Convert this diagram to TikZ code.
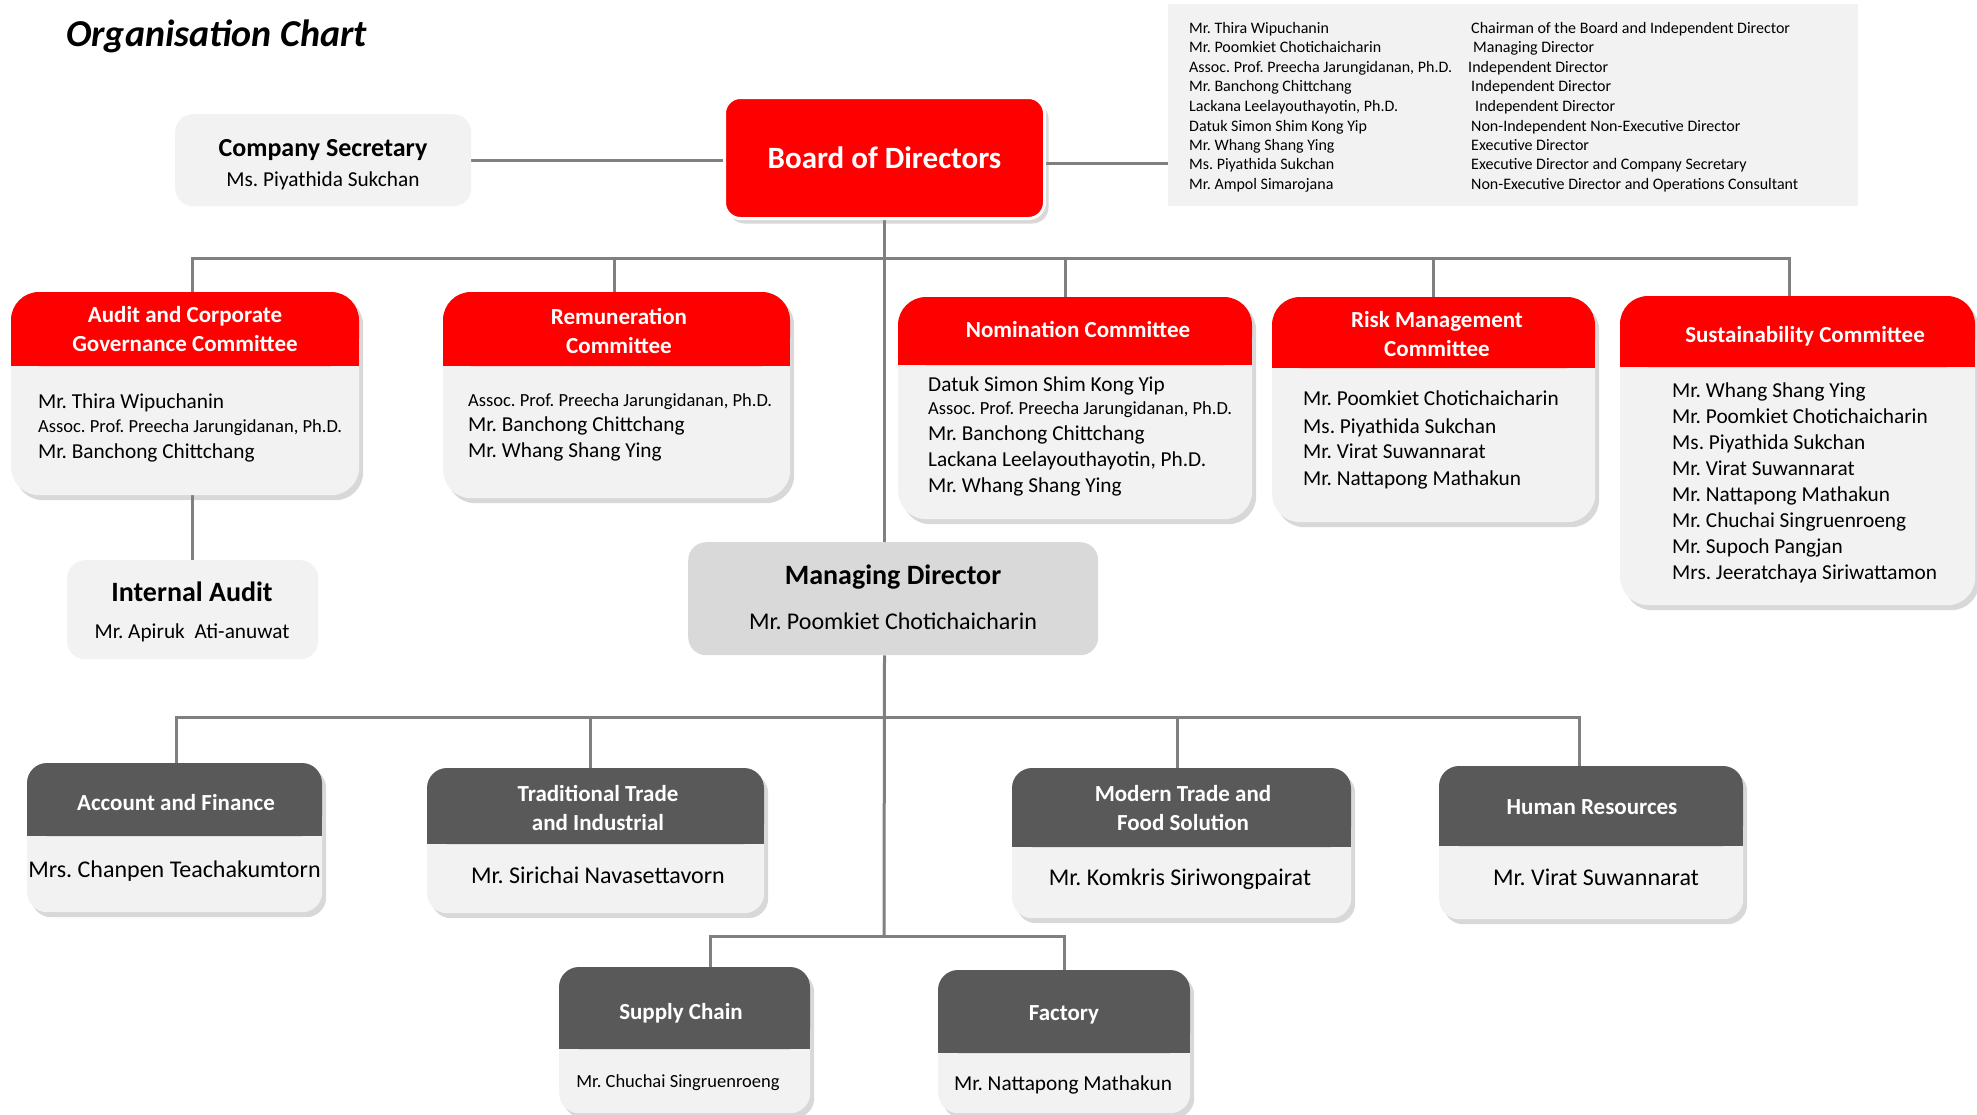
\documentclass[tikz,border=0pt]{standalone}
\usepackage{fontspec}
\setmainfont{Carlito}
\usetikzlibrary{shadows}
\pgfdeclarelayer{bg}
\pgfsetlayers{bg,main}
\definecolor{hdred}{HTML}{FF0000}
\definecolor{hdgray}{HTML}{595959}
\definecolor{bodylt}{HTML}{F2F2F2}
\definecolor{mdgray}{HTML}{D9D9D9}
\definecolor{linegray}{HTML}{808080}
\AtBeginDocument{\frenchspacing}
\newcommand{\fz}[2]{\fontsize{#1}{#2}\selectfont}
% name, x1, y1, x2, y2, header bottom, header colour, radius, style
\newcommand{\orgcard}[9]{%
  \node[#9, rounded corners=#8pt, minimum width={#4-#2}, minimum height={#5-#3}, anchor=north west, inner sep=0pt] (#1) at (#2,#3) {};
  \fill[#7, rounded corners=#8pt] (#2,#3) rectangle (#4,#6);
  \fill[#7] (#2,{#6-#8}) rectangle (#4,#6);
}
\tikzset{
  conn/.style={draw=linegray, line width=3pt},
  card/.style={fill=bodylt, drop shadow={shadow xshift=4pt, shadow yshift=-5pt, opacity=0.3}},
  flat/.style={fill=bodylt},
  hdtxt/.style={inner sep=0pt, text=white, align=center, font=\fz{23}{29}\bfseries},
  bl/.style={inner sep=0pt, anchor=base west, font=\fz{21.3}{21.3}},
  sm/.style={inner sep=0pt, anchor=base west, font=\fz{18.5}{18.5}},
  lg/.style={inner sep=0pt, anchor=base west, font=\fz{16}{16}},
  ctr/.style={inner sep=0pt, anchor=base, font=\fz{#1}{#1}},
  ctrb/.style={inner sep=0pt, anchor=base, font=\fz{#1}{#1}\bfseries},
}
\begin{document}
\begin{tikzpicture}[x=1pt,y=-1pt]
\useasboundingbox (0,0) rectangle (1977,1114);
\begin{pgfonlayer}{bg}
\fill[white] (0,0) rectangle (1977,1114);
\end{pgfonlayer}

% title
\node[inner sep=0pt, anchor=base west, font=\fz{38}{38}\bfseries\itshape] (title) at (66,46) {Organisation Chart};

% legend
\node[fill=bodylt, minimum width=690, minimum height=202, anchor=north west, inner sep=0pt] (legend) at (1168,4) {};
\foreach \i/\yy/\xr/\nm/\rl in {
1/33.3/1471/{Mr. Thira Wipuchanin}/{Chairman of the Board and Independent Director},
2/52.7/1473/{Mr. Poomkiet Chotichaicharin}/{Managing Director},
3/72.3/1468/{Assoc. Prof. Preecha Jarungidanan, Ph.D.}/{Independent Director},
4/91.7/1471/{Mr. Banchong Chittchang}/{Independent Director},
5/111.7/1475/{Lackana Leelayouthayotin, Ph.D.}/{Independent Director},
6/131/1471/{Datuk Simon Shim Kong Yip}/{Non-Independent Non-Executive Director},
7/150.7/1471/{Mr. Whang Shang Ying}/{Executive Director},
8/169.7/1471/{Ms. Piyathida Sukchan}/{Executive Director and Company Secretary},
9/189.3/1471/{Mr. Ampol Simarojana}/{Non-Executive Director and Operations Consultant}}
{\node[lg] (lgn\i) at (1189,\yy) {\nm}; \node[lg] (lgr\i) at (\xr,\yy) {\rl};}

% company secretary
\node[flat, rounded corners=18pt, minimum width=296, minimum height=92, anchor=north west, inner sep=0pt] (cosec) at (175,114) {};
\node[ctrb=26] (cosecT) at (323,156) {Company Secretary};
\node[ctr=21.3] (cosecN) at (323,186.5) {Ms. Piyathida Sukchan};

% board
\node[fill=hdred, draw=white, line width=3pt, rounded corners=16pt, minimum width=320, minimum height=121, anchor=north west, inner sep=0pt, text=white, font=\fz{31}{31}\bfseries, drop shadow={shadow xshift=4pt, shadow yshift=-5pt, opacity=0.3}] (board) at (723,96) {Board of Directors};

% committees
\orgcard{audit}{11}{292}{359}{495}{366}{hdred}{28}{card}
\node[hdtxt] (auditH) at (185,329.5) {Audit and Corporate\\Governance Committee};
\node[bl] (audit1) at (38,408.5) {Mr. Thira Wipuchanin};
\node[sm] (audit2) at (38,432.3) {Assoc. Prof. Preecha Jarungidanan, Ph.D.};
\node[bl] (audit3) at (38,458.2) {Mr. Banchong Chittchang};

\orgcard{remu}{443}{292}{790}{498}{366}{hdred}{28}{card}
\node[hdtxt] (remuH) at (619,330.7) {Remuneration\\Committee};
\node[sm] (remu1) at (468,406) {Assoc. Prof. Preecha Jarungidanan, Ph.D.};
\node[bl] (remu2) at (468,431.5) {Mr. Banchong Chittchang};
\node[bl] (remu3) at (468,457.2) {Mr. Whang Shang Ying};

\orgcard{nom}{898}{297}{1252}{519}{365}{hdred}{28}{card}
\node[hdtxt] (nomH) at (1078,329) {Nomination Committee};
\node[bl] (nom1) at (928,391.5) {Datuk Simon Shim Kong Yip};
\node[sm] (nom2) at (928,414.3) {Assoc. Prof. Preecha Jarungidanan, Ph.D.};
\node[bl] (nom3) at (928,440.5) {Mr. Banchong Chittchang};
\node[bl] (nom4) at (928,466.5) {Lackana Leelayouthayotin, Ph.D.};
\node[bl] (nom5) at (928,492.2) {Mr. Whang Shang Ying};

\orgcard{risk}{1272}{297}{1595}{522}{368}{hdred}{28}{card}
\node[hdtxt] (riskH) at (1437,334.5) {Risk Management\\Committee};
\node[bl] (risk1) at (1303,405.5) {Mr. Poomkiet Chotichaicharin};
\node[bl] (risk2) at (1303,433.2) {Ms. Piyathida Sukchan};
\node[bl] (risk3) at (1303,458.2) {Mr. Virat Suwannarat};
\node[bl] (risk4) at (1303,485.5) {Mr. Nattapong Mathakun};

\orgcard{sust}{1620}{296}{1975}{605}{367}{hdred}{28}{card}
\node[hdtxt] (sustH) at (1805,336) {Sustainability Committee};
\node[bl] (sust1) at (1672,397.5) {Mr. Whang Shang Ying};
\node[bl] (sust2) at (1672,423.2) {Mr. Poomkiet Chotichaicharin};
\node[bl] (sust3) at (1672,449.2) {Ms. Piyathida Sukchan};
\node[bl] (sust4) at (1672,475.2) {Mr. Virat Suwannarat};
\node[bl] (sust5) at (1672,501.5) {Mr. Nattapong Mathakun};
\node[bl] (sust6) at (1672,527.2) {Mr. Chuchai Singruenroeng};
\node[bl] (sust7) at (1672,553.2) {Mr. Supoch Pangjan};
\node[bl] (sust8) at (1672,579.2) {Mrs. Jeeratchaya Siriwattamon};

% internal audit
\node[flat, rounded corners=18pt, minimum width=251, minimum height=99, anchor=north west, inner sep=0pt] (ia) at (67,560) {};
\node[ctrb=28] (iaT) at (192,601.5) {Internal Audit};
\node[ctr=21.3] (iaN) at (192,638.5) {Mr. Apiruk~~Ati-anuwat};

% managing director
\node[fill=mdgray, rounded corners=18pt, minimum width=410, minimum height=113, anchor=north west, inner sep=0pt] (md) at (688,542) {};
\node[ctrb=28] (mdT) at (893,584.5) {Managing Director};
\node[ctr=24] (mdN) at (893,629) {Mr. Poomkiet Chotichaicharin};

% departments
\orgcard{acc}{27}{763}{322}{912}{836}{hdgray}{20}{card}
\node[hdtxt] (accH) at (176,803) {Account and Finance};
\node[ctr=24] (accN) at (174.5,877) {Mrs. Chanpen Teachakumtorn};

\orgcard{trad}{427}{768}{764}{913}{844}{hdgray}{20}{card}
\node[hdtxt] (tradH) at (598,807.5) {Traditional Trade\\and Industrial};
\node[ctr=24] (tradN) at (598,883) {Mr. Sirichai Navasettavorn};

\orgcard{mod}{1012}{768}{1351}{918}{847}{hdgray}{20}{card}
\node[hdtxt] (modH) at (1183,808) {Modern Trade and\\Food Solution};
\node[ctr=24] (modN) at (1180,885) {Mr. Komkris Siriwongpairat};

\orgcard{hr}{1439}{766}{1743}{919}{846}{hdgray}{20}{card}
\node[hdtxt] (hrH) at (1592,807) {Human Resources};
\node[ctr=24] (hrN) at (1596,885) {Mr. Virat Suwannarat};

\orgcard{sc}{559}{967}{810}{1113}{1049}{hdgray}{20}{card}
\node[hdtxt] (scH) at (681,1013) {Supply Chain};
\node[ctr=18.5] (scN) at (678,1087.5) {Mr. Chuchai Singruenroeng};

\orgcard{fac}{938}{970}{1190}{1113}{1053}{hdgray}{20}{card}
\node[hdtxt] (facH) at (1064,1015) {Factory};
\node[ctr=21.3] (facN) at (1063,1090.5) {Mr. Nattapong Mathakun};

% connectors
\coordinate (cbus) at (884,258);
\coordinate (dbus) at (884,717);
\coordinate (sbus) at (884,936);
\begin{pgfonlayer}{bg}
\draw[conn] (cosec.east) -- (cosec.east -| board.west);
\draw[conn] ([yshift=-5pt]board.east) -- ([yshift=-5pt]board.east -| legend.west);
\draw[conn] (board.south) -- (board.south |- md.north);
\draw[conn] ([xshift=7pt]audit.north) -- ([xshift=7pt]audit.north |- cbus) -- ([xshift=-8pt]sust.north |- cbus) -- ([xshift=-8pt]sust.north);
\draw[conn] ([xshift=-2pt]remu.north) -- ([xshift=-2pt]remu.north |- cbus);
\draw[conn] ([xshift=-10pt]nom.north) -- ([xshift=-10pt]nom.north |- cbus);
\draw[conn] (risk.north) -- (risk.north |- cbus);
\draw[conn] (ia.north) -- (ia.north |- audit.south);
\draw[conn] (board.south |- md.south) -- (sbus);
\draw[conn] ([xshift=2pt]acc.north) -- ([xshift=2pt]acc.north |- dbus) -- ([xshift=-12pt]hr.north |- dbus) -- ([xshift=-12pt]hr.north);
\draw[conn] ([xshift=-5pt]trad.north) -- ([xshift=-5pt]trad.north |- dbus);
\draw[conn] ([xshift=-4pt]mod.north) -- ([xshift=-4pt]mod.north |- dbus);
\draw[conn] ([xshift=26pt]sc.north) -- ([xshift=26pt]sc.north |- sbus) -- (fac.north |- sbus) -- (fac.north);
\end{pgfonlayer}
\end{tikzpicture}
\end{document}
